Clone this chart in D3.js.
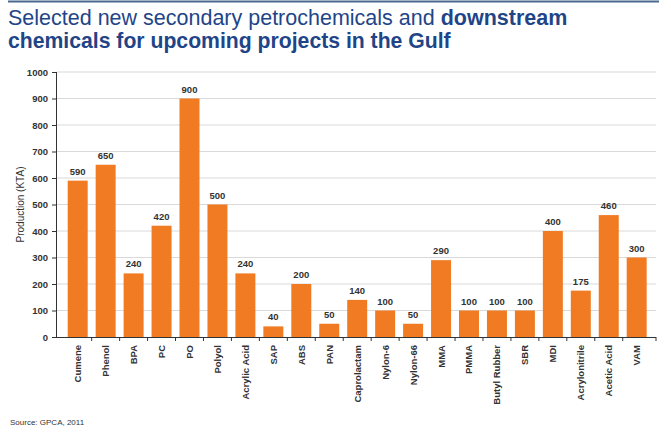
<!DOCTYPE html>
<html><head><meta charset="utf-8">
<script src="https://cdn.jsdelivr.net/npm/d3@7"></script>
<style>body{margin:0;background:#fff}svg{display:block}</style>
</head><body>
<svg id="c" width="671" height="438"></svg>
<script>
const categories = ["Cumene","Phenol","BPA","PC","PO","Polyol","Acrylic Acid","SAP","ABS","PAN","Caprolactam","Nylon-6","Nylon-66","MMA","PMMA","Butyl Rubber","SBR","MDI","Acrylonitrile","Acetic Acid","VAM"];
const values = [590,650,240,420,900,500,240,40,200,50,140,100,50,290,100,100,100,400,175,460,300];
const yTicks = [0,100,200,300,400,500,600,700,800,900,1000];

const svg = d3.select("#c");
const font = "'Liberation Sans', Arial, Helvetica, sans-serif";
const x0 = 57, x1 = 656, yTop = 72, yBot = 337;

// top rule
svg.append("line").attr("x1",8).attr("x2",659).attr("y1",1.5).attr("y2",1.5)
  .attr("stroke","#4b6a8f").attr("stroke-width",2);

// title
const t1 = svg.append("text").attr("x",8).attr("y",25).attr("font-family",font)
  .attr("font-size",21.5).attr("fill","#1f4588");
t1.append("tspan").text("Selected new secondary petrochemicals and ");
t1.append("tspan").attr("font-weight","bold").text("downstream");
svg.append("text").attr("x",8).attr("y",48).attr("font-family",font)
  .attr("font-size",21.2).attr("font-weight","bold").attr("fill","#1f4588")
  .text("chemicals for upcoming projects in the Gulf");

const x = d3.scaleBand().domain(categories).range([63.8,650.6]).paddingInner(0.285).paddingOuter(0.14);
const y = d3.scaleLinear().domain([0,1000]).range([yBot,yTop]);

// gridlines
svg.append("g").selectAll("line").data(yTicks.filter(d=>d>0)).join("line")
  .attr("x1",x0).attr("x2",x1).attr("y1",d=>y(d)).attr("y2",d=>y(d))
  .attr("stroke","#d9d9d9").attr("stroke-width",1);

// bars
svg.append("g").selectAll("rect").data(values).join("rect")
  .attr("x",(d,i)=>x(categories[i])).attr("width",x.bandwidth())
  .attr("y",d=>y(d)).attr("height",d=>y(0)-y(d)).attr("fill","#f07b22");

// value labels
svg.append("g").selectAll("text").data(values).join("text")
  .attr("x",(d,i)=>x(categories[i])+x.bandwidth()/2).attr("y",d=>y(d)-6)
  .attr("text-anchor","middle").attr("font-family",font).attr("font-size",9.5)
  .attr("font-weight","bold").attr("fill","#333").text(d=>d);

// y axis
const ya = svg.append("g").attr("transform",`translate(${x0},0)`)
  .call(d3.axisLeft(y).tickValues(yTicks).tickFormat(d3.format("d")).tickSize(5).tickPadding(4));
ya.select(".domain").attr("stroke","#333").attr("d",`M-0.5,${yTop}V${yBot}`);
ya.selectAll(".tick line").attr("stroke","#333");
ya.selectAll("text").attr("font-family",font).attr("font-size",9.5).attr("font-weight","bold").attr("fill","#333");

// x axis
svg.append("line").attr("x1",x0-5).attr("x2",x1).attr("y1",yBot+0.5).attr("y2",yBot+0.5).attr("stroke","#333");
const step = x.step();
const bounds = categories.slice(1).map(c=>x(c)-(step-x.bandwidth())/2);
bounds.push(x1);
svg.append("g").selectAll("line").data(bounds).join("line")
  .attr("x1",d=>d).attr("x2",d=>d).attr("y1",yBot).attr("y2",yBot+4).attr("stroke","#333");

svg.append("g").selectAll("text").data(categories).join("text")
  .attr("transform",d=>`translate(${x(d)+x.bandwidth()/2+3.5},${yBot+8}) rotate(-90)`)
  .attr("text-anchor","end").attr("font-family",font).attr("font-size",9.5)
  .attr("font-weight","bold").attr("fill","#333").text(d=>d);

// y title
svg.append("text").attr("transform",`translate(24,${(yTop+yBot)/2}) rotate(-90)`)
  .attr("text-anchor","middle").attr("font-family",font).attr("font-size",10)
  .attr("fill","#333").text("Production (KTA)");

// source
svg.append("text").attr("x",10).attr("y",425).attr("font-family",font).attr("font-size",8)
  .attr("fill","#333").text("Source: GPCA, 2011");
</script>
</body></html>
